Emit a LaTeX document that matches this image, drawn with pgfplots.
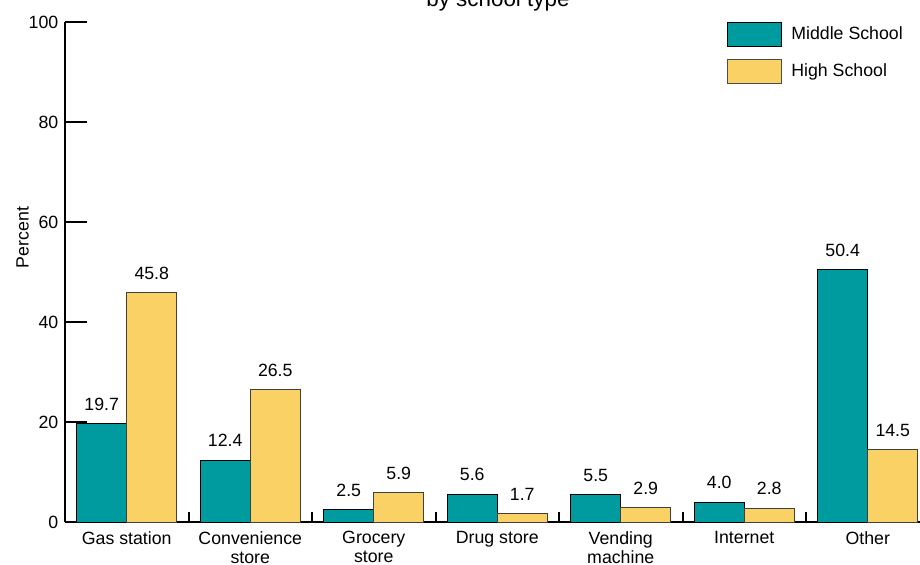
\documentclass[border=0pt]{standalone}
\usepackage{pgfplots}
\pgfplotsset{compat=1.18}
\usepackage{fontspec}
\setmainfont{Liberation Sans}
\definecolor{msteal}{HTML}{009B9F}
\definecolor{hsyellow}{HTML}{F9D164}
\newcommand{\lblfont}{\fontsize{13.3}{14.3}\selectfont}
\begin{document}
\begin{tikzpicture}
\useasboundingbox (-48.75pt,-31.5pt) rectangle (641.25pt,391.5pt);
\begin{axis}[
  at={(0pt,0pt)}, anchor=south west,
  scale only axis, width=641.25pt, height=375pt,
  xmin=-0.5, xmax=6.423, ymin=0, ymax=100,
  ybar=0pt, bar width=0.405,
  axis x line=bottom, axis y line=left,
  axis line style={-, line width=1.5pt, black},
  ytick={0,20,...,100},
  xtick={0,...,6},
  xticklabels={Gas station,{Convenience\\store},{Grocery\\store},Drug store,{Vending\\machine},Internet,Other},
  xticklabel style={align=center, font=\lblfont, yshift=-3.5pt},
  yticklabel style={font=\lblfont, xshift=-1.5pt},
  minor xtick={0.5,1.5,...,5.5},
  tick align=inside,
  major tick length=16.5pt,
  minor tick length=7.5pt,
  tick style={line width=1.5pt, black},
  major x tick style={draw=none},
  /pgf/number format/assume math mode=true,
  nodes near coords={\pgfmathprintnumber[fixed,fixed zerofill,precision=1,assume math mode=true]{\pgfplotspointmeta}},
  nodes near coords style={font=\lblfont, anchor=south, inner sep=0pt, yshift=9.5pt},
  legend style={draw=none, fill=none, at={(rel axis cs:0.7743,1)}, anchor=north west,
    inner sep=0pt, outer sep=0pt, row sep=9pt, font=\lblfont,
    nodes={inner sep=0pt, anchor=west},
    /tikz/every odd column/.append style={column sep=7pt}},
  clip=false,
]
\addplot[fill=msteal, draw=black, line width=0.75pt,
  legend image code/.code={\draw[fill=msteal,draw=black,line width=0.75pt] (0pt,-9pt) rectangle (40.5pt,9pt);}]
  coordinates {(0,19.7) (1,12.4) (2,2.5) (3,5.6) (4,5.5) (5,4.0) (6,50.4)};
\addplot[fill=hsyellow, draw=black!75, line width=0.75pt,
  legend image code/.code={\draw[fill=hsyellow,draw=black!70,line width=0.75pt] (0pt,-9pt) rectangle (40.5pt,9pt);}]
  coordinates {(0,45.8) (1,26.5) (2,5.9) (3,1.7) (4,2.9) (5,2.8) (6,14.5)};
\legend{Middle School, High School}
\node[font=\fontsize{16.8}{18}\selectfont, anchor=base] at (rel axis cs:0.5064,1.031) {by school type};
\node[font=\lblfont, rotate=90, anchor=center] at (axis cs:-0.844,56.9) {Percent};
\end{axis}
\end{tikzpicture}
\end{document}
